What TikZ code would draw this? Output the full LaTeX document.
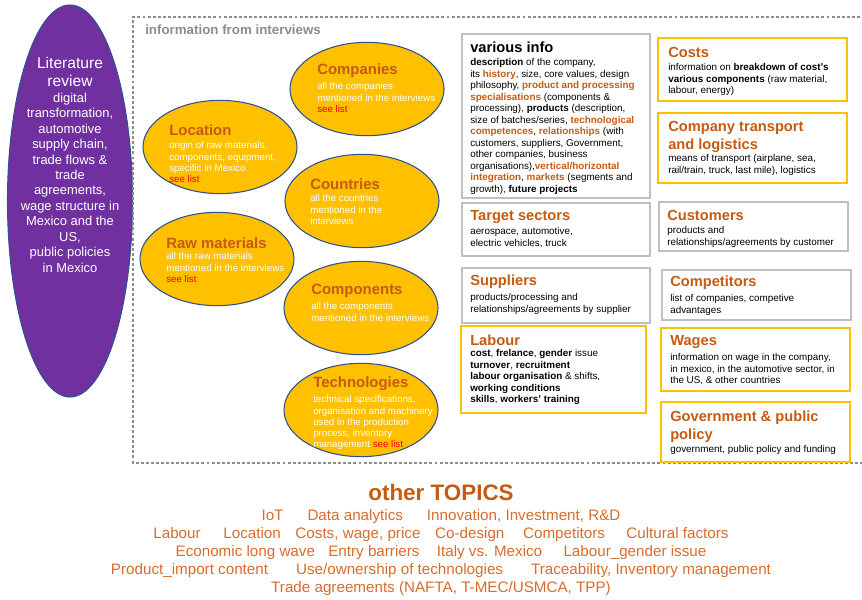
\documentclass[tikz,border=0pt]{standalone}
\usepackage{fontspec}
\setmainfont{Liberation Sans}
\usetikzlibrary{shapes.geometric}

\definecolor{purp}{HTML}{7030A0}
\definecolor{gold}{HTML}{FFC000}
\definecolor{rim}{HTML}{2F528F}
\definecolor{rust}{HTML}{C55A11}
\definecolor{topic}{HTML}{D86C2C}
\definecolor{framegray}{HTML}{8C8C8C}
\definecolor{boxgray}{HTML}{BFBFBF}
\newcommand{\hl}[1]{\textcolor{rust}{\textbf{#1}}}
\newcommand{\seelist}{\textcolor{red}{see list}}

\begin{document}
\begin{tikzpicture}[x=0.75pt, y=-0.75pt,
  bubble/.style={ellipse, draw=rim, fill=gold, line width=0.8pt, minimum width=115.5pt, minimum height=70pt, inner sep=0pt},
  btitle/.style={anchor=west, inner sep=0pt, text=rust, font=\fontsize{11.2}{13}\selectfont\bfseries},
  btext/.style={anchor=north west, inner sep=0pt, align=left, text=white, font=\fontsize{7.3}{8.4}\selectfont},
  graybox/.style={draw=boxgray, line width=0.8pt},
  goldbox/.style={draw=gold, line width=2pt},
  ttl/.style={anchor=west, inner sep=0pt, align=left, text=rust, font=\fontsize{11}{13.5}\selectfont\bfseries},
  txt/.style={anchor=north west, inner sep=0pt, align=left, font=\fontsize{7.4}{8.6}\selectfont}]
\useasboundingbox (0,0) rectangle (862,599);

% literature review
\node[ellipse, draw=rim, fill=purp, line width=0.8pt, minimum width=93.75pt, minimum height=294pt, inner sep=0pt] (lit) at (70,201) {};
\node[anchor=north, inner sep=0pt, align=center, text=white, font=\fontsize{11.7}{13.5}\selectfont] (lit-h) at (70,56.5) {Literature\\review};
\node[anchor=north, inner sep=0pt, align=center, text=white, font=\fontsize{9.7}{11.6}\selectfont] (lit-t) at (70,92.5)
  {digital\\transformation,\\automotive\\supply chain,\\trade flows \&\\trade\\agreements,\\wage structure in\\Mexico and the\\US,\\public policies\\in Mexico};

% interviews frame
\draw[framegray, line width=1.5pt, dash pattern=on 2.2pt off 1.6pt] (870,17) -- (133,17) -- (133,463) -- (870,463);
\node[anchor=west, inner sep=0pt, text=framegray, font=\fontsize{10}{12}\selectfont\bfseries] (intv) at (145,30) {information from interviews};

\node[bubble] (comp) at (367,89) {};
\node[btitle] (comp-h) at (317,71) {Companies};
\node[btext] (comp-t) at (317,82.5) {all the companies\\mentioned in the interviews\\\seelist};

\node[bubble] (loc) at (220,147) {};
\node[btitle] (loc-h) at (169,130) {Location};
\node[btext] (loc-t) at (169,141.5) {origin of raw materials,\\components, equipment,\\specific in Mexico\\\seelist};

\node[bubble] (ctry) at (362,201) {};
\node[btitle] (ctry-h) at (310,184) {Countries};
\node[btext] (ctry-t) at (310,194.5) {all the countries\\mentioned in the\\interviews};

\node[bubble] (raw) at (217,259) {};
\node[btitle] (raw-h) at (166,243) {Raw materials};
\node[btext] (raw-t) at (166,252.5) {all the raw materials\\mentioned in the interviews\\\seelist};

\node[bubble] (cmpn) at (361,308) {};
\node[btitle] (cmpn-h) at (311,291) {Components};
\node[btext] (cmpn-t) at (311,302.5) {all the components\\mentioned in the interviews};

\node[bubble] (tech) at (361,410) {};
\node[btitle] (tech-h) at (313,384) {Technologies};
\node[btext] (tech-t) at (313,395.5) {technical specifications,\\organisation and machinery\\used in the production\\process, inventory\\management \seelist};

% left column of boxes
\draw[graybox] (462,34) rectangle (650,198);
\node[ttl, text=black] (info-h) at (470,47) {various info};
\node[txt] (info-t) at (470,58.5) {\textbf{description} of the company,\\
  its \hl{history}, size, core values, design\\
  philosophy, \hl{product and processing}\\
  \hl{specialisations} (components \&\\
  processing), \textbf{products} (description,\\
  size of batches/series, \hl{technological}\\
  \hl{competences}, \hl{relationships} (with\\
  customers, suppliers, Government,\\
  other companies,  business\\
  organisations),\hl{vertical/horizontal}\\
  \hl{integration}, \hl{markets} (segments and\\
  growth), \textbf{future projects}};

\draw[graybox] (462,203) rectangle (650,256);
\node[ttl] (trg-h) at (470,217) {Target sectors};
\node[txt] (trg-t) at (470,227.5) {aerospace, automotive,\\electric vehicles, truck};

\draw[graybox] (462,268) rectangle (650,323);
\node[ttl] (sup-h) at (470,282) {Suppliers};
\node[txt] (sup-t) at (470,293.5) {products/processing and\\relationships/agreements  by supplier};

\draw[goldbox] (461,326) rectangle (646,413);
\node[ttl] (lab-h) at (470,340) {Labour};
\node[txt] (lab-t) at (470,349.5) {\textbf{cost}, \textbf{frelance}, \textbf{gender} issue\\
  \textbf{turnover}, \textbf{recruitment}\\
  \textbf{labour organisation} \& shifts,\\
  \textbf{working conditions}\\
  \textbf{skills}, \textbf{workers' training}};

% right column of boxes
\draw[goldbox] (658,38) rectangle (847,101);
\node[ttl] (cost-h) at (668,52) {Costs};
\node[txt] (cost-t) at (668,63.5) {information on \textbf{breakdown of cost's}\\\textbf{various components} (raw material,\\labour, energy)};

\draw[goldbox] (658,113) rectangle (847,183);
\node[ttl, anchor=north west] (trn-h) at (668,120.5) {Company transport\\and logistics};
\node[txt] (trn-t) at (668,154.5) {means of transport (airplane, sea,\\rail/train, truck, last mile), logistics};

\draw[graybox] (659,202) rectangle (848,251);
\node[ttl] (cust-h) at (667,215) {Customers};
\node[txt] (cust-t) at (667,226.5) {products and\\relationships/agreements  by customer};

\draw[graybox] (662,270) rectangle (851,320);
\node[ttl] (comp2-h) at (670,283) {Competitors};
\node[txt] (comp2-t) at (670,294.5) {list of companies, competive\\advantages};

\draw[goldbox] (661,328) rectangle (850,391);
\node[ttl] (wage-h) at (670,342) {Wages};
\node[txt] (wage-t) at (670,353.5) {information on wage in the company,\\in mexico, in the automotive sector, in\\the US, \& other countries};

\draw[goldbox] (661,402) rectangle (850,462);
\node[ttl, anchor=north west] (gov-h) at (670,410.5) {Government \& public\\policy};
\node[txt] (gov-t) at (670,445.5) {government, public policy and funding};

% other topics
\node[inner sep=0pt, text=rust, font=\fontsize{16.8}{19}\selectfont\bfseries] (other) at (441,492) {other TOPICS};
\node[anchor=north, inner sep=0pt, align=center, text=topic, font=\fontsize{11.4}{13.5}\selectfont] (topics) at (441,509.5)
  {IoT\hspace{18pt}Data analytics\hspace{18pt}Innovation, Investment, R\&D\\
   Labour\hspace{17pt}Location\hspace{11pt}Costs, wage, price\hspace{11pt}Co-design\hspace{14pt}Competitors\hspace{16pt}Cultural factors\\
   Economic long wave\hspace{10pt}Entry barriers\hspace{13pt}Italy vs. Mexico\hspace{16pt}Labour\_gender issue\\
   Product\_import content\hspace{21pt}Use/ownership of technologies\hspace{21pt}Traceability, Inventory management\\
   Trade agreements (NAFTA, T-MEC/USMCA, TPP)};

\end{tikzpicture}
\end{document}
